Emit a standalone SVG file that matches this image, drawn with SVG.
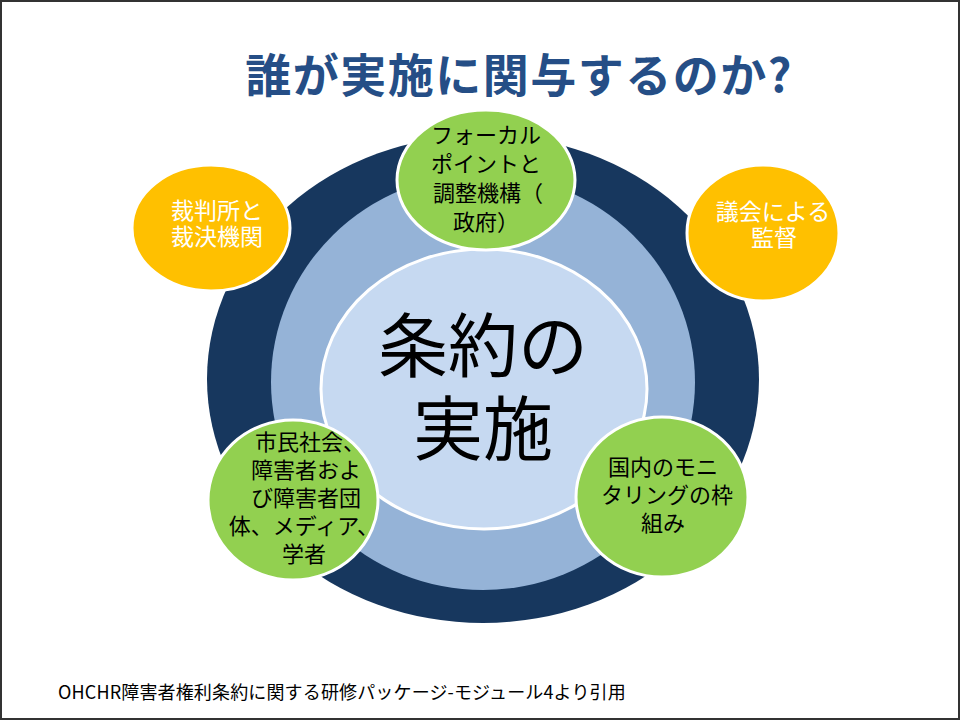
<svg xmlns="http://www.w3.org/2000/svg" width="960" height="720" viewBox="0 0 960 720">
<style>
.jp{font-family:"Noto Sans CJK JP","Noto Sans",sans-serif;}
.node{font-size:22px;fill:#000;text-anchor:middle;}
.wt{font-size:23px;fill:#fff;text-anchor:middle;}
.green{fill:#92D050;stroke:#fff;stroke-width:3;}
.yellow{fill:#FFC000;stroke:#fff;stroke-width:3;}
</style>
<rect x="0" y="0" width="960" height="720" fill="#fff"/>
<rect x="1" y="1" width="958" height="718" fill="none" stroke="#333" stroke-width="2"/>
<text class="jp" x="519" y="92" font-size="46" font-weight="bold" fill="#254E86" text-anchor="middle" letter-spacing="1.5">誰が実施に関与するのか?</text>
<g id="rings">
<ellipse cx="483" cy="379" rx="276" ry="244" fill="#17375E"/>
<ellipse cx="483" cy="382" rx="212" ry="208" fill="#95B3D7"/>
</g>
<g id="center">
<ellipse cx="484" cy="389" rx="163" ry="140" fill="#C6D9F1" stroke="#fff" stroke-width="3"/>
<text class="jp" x="483" y="372" font-size="70" fill="#000" text-anchor="middle">条約の</text>
<text class="jp" x="483" y="455" font-size="70" fill="#000" text-anchor="middle">実施</text>
</g>
<g id="focal">
<ellipse class="green" cx="486" cy="180" rx="89" ry="70"/>
<text class="jp node" x="486" y="143">フォーカル</text>
<text class="jp node" x="486" y="172">ポイントと</text>
<text class="jp node" x="488" y="201">調整機構（</text>
<text class="jp node" x="486" y="230">政府）</text>
</g>
<g id="courts">
<ellipse class="yellow" cx="211" cy="228" rx="79" ry="63"/>
<text class="jp wt" x="217" y="219">裁判所と</text>
<text class="jp wt" x="217" y="245">裁決機関</text>
</g>
<g id="parliament">
<ellipse class="yellow" cx="763" cy="233" rx="76" ry="68"/>
<text class="jp wt" x="773" y="220">議会による</text>
<text class="jp wt" x="774" y="246">監督</text>
</g>
<g id="monitoring">
<ellipse class="green" cx="662" cy="497" rx="86" ry="80"/>
<text class="jp node" x="663" y="475">国内のモニ</text>
<text class="jp node" x="667" y="503">タリングの枠</text>
<text class="jp node" x="663" y="531">組み</text>
</g>
<g id="civil">
<ellipse class="green" cx="293" cy="500" rx="85" ry="80"/>
<text class="jp node" x="310" y="450">市民社会、</text>
<text class="jp node" x="306" y="478">障害者およ</text>
<text class="jp node" x="306" y="506">び障害者団</text>
<text class="jp node" x="304" y="534">体、メディア、</text>
<text class="jp node" x="304" y="562">学者</text>
</g>
<g id="connectors"></g>
<text class="jp" x="58" y="699" font-size="18" fill="#000" letter-spacing="0.15">OHCHR障害者権利条約に関する研修パッケージ-モジュール4より引用</text>
</svg>
